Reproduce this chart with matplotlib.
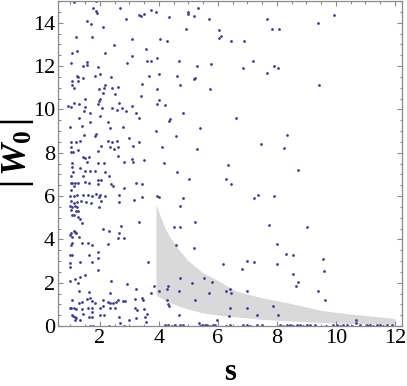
import matplotlib
matplotlib.use('Agg')
import matplotlib.pyplot as plt
from matplotlib.ticker import MultipleLocator

plt.rcParams['font.family'] = ['Liberation Serif', 'DejaVu Serif']
plt.rcParams['mathtext.fontset'] = 'custom'
plt.rcParams['mathtext.rm'] = 'Liberation Serif:bold'
plt.rcParams['mathtext.it'] = 'Liberation Serif:italic:bold'
plt.rcParams['mathtext.bf'] = 'Liberation Serif:bold'

# ---- scatter data (s, |W0|) ----
s_top_left = [1.12,1.86,1.77,1.86,1.91,2.67,1.55,1.71,2.89,3.31,
              2.09,1.18,1.74,3.08,2.49,1.22,1.07,2.18,3.08,1.02,
              1.57,1.57,1.43,2.92,1.95,1.99,1.85,1.23,1.27,1.44,
              2.37,1.06,1.25,1.07,1.11,2.18,2.15,1.97,2.41,2.63,
              2.11,2.52,1.51,2.02,1.98,1.12,1.30,1.95,2.66,0.92,
              1.02,1.48,2.07,2.41,2.76,2.59,3.08,1.46,1.65,2.90,
              1.28,1.99,3.24,1.66,2.28,1.00,1.40,2.34,2.80]
w_top_left = [14.95,14.98,14.70,14.56,14.43,14.70,14.09,13.92,14.18,14.36,
              13.80,13.36,13.33,13.24,12.98,12.69,12.58,12.58,12.47,12.15,
              12.19,12.04,12.02,12.15,11.96,11.62,11.56,11.55,11.49,11.45,
              11.49,11.33,11.33,11.12,10.99,11.12,10.99,10.96,10.99,11.02,
              10.75,10.73,10.49,10.47,10.39,10.28,10.24,10.24,10.30,10.15,
              10.13,10.13,10.05,10.08,10.07,9.98,10.16,9.90,9.85,9.91,
              9.62,9.68,9.84,9.42,9.41,9.18,9.21,9.13,9.19]

s_mid_left = [1.45,1.84,1.87,1.01,1.19,1.31,2.29,2.40,2.59,2.99,
              3.31,3.11,2.05,2.33,2.49,2.61,1.03,1.01,1.08,1.25,
              1.95,1.42,1.64,1.50,1.57,2.60,2.82,3.08,3.13,1.04,
              1.05,1.93,2.14,1.33,1.49,1.65,1.82,1.08,2.16,2.32,
              1.01,1.43,1.92,2.05,1.02,1.07,1.14,1.25,1.51,1.62,
              1.95,2.38,2.46,2.81,3.23,1.13,1.01,1.13,1.00,1.21,
              1.43,1.58,1.72,1.87,1.97,2.02,2.18,2.64,1.02,1.12,
              1.21,1.35,1.53,1.69,2.03,3.14,2.64,0.98,1.04,1.16,
              1.24,1.98,1.02,1.19,1.27,1.06,1.13,1.25,1.31,3.31,
              1.39,2.11,2.31,2.72,2.64,1.15,1.20,1.02,0.98,1.04,
              1.29,1.12,2.62,2.81,1.06,1.02,1.41,1.58,1.72,2.29]
w_mid_left = [8.82,8.79,8.84,8.51,8.50,8.53,8.53,8.48,8.53,8.68,
              8.50,8.31,8.33,8.27,8.16,8.25,8.28,8.04,8.02,8.14,
              8.10,7.82,7.82,7.76,7.59,7.85,7.57,7.71,7.56,7.54,
              7.36,7.51,7.54,7.30,7.14,7.16,7.16,7.10,7.11,6.90,
              6.93,6.90,6.74,6.74,6.59,6.59,6.59,6.59,6.65,6.59,
              6.56,6.57,6.44,6.39,6.59,6.47,6.27,6.02,6.02,6.05,
              6.04,6.04,5.99,6.10,5.97,6.05,6.00,6.04,5.79,5.67,
              5.74,5.76,5.73,5.70,5.77,5.80,5.73,5.54,5.48,5.53,
              5.48,5.47,5.34,5.33,5.33,5.13,5.11,5.02,4.96,4.80,
              4.74,4.50,4.37,4.62,4.31,4.36,4.28,4.28,4.20,4.11,
              4.11,4.39,4.08,4.06,3.82,3.73,3.82,3.85,3.76,3.80]

s_low_left = [0.97,1.05,1.62,1.92,1.95,1.33,0.98,0.98,1.74,1.95,
              1.50,1.32,1.15,1.00,1.27,2.38,2.92,3.21,3.18,1.28,
              1.62,2.34,1.07,1.28,1.40,1.56,1.67,1.74,1.82,2.11,
              2.26,2.35,2.44,2.56,2.61,2.77,2.86,0.97,1.03,1.12,
              1.19,1.40,1.58,1.73,1.99,2.10,2.34,2.51,3.18,3.25,
              1.05,1.08,1.14,1.19,1.44,1.33,1.63,1.72,1.73,2.02,
              2.15,2.66,2.68,2.98,3.23,1.66,1.75,2.32,2.81,1.17]
w_low_left = [3.29,3.28,3.26,3.43,3.13,2.94,2.91,2.74,2.94,2.57,
              2.36,2.25,2.17,2.06,1.97,2.06,1.92,1.69,1.25,1.63,
              1.57,1.54,1.20,1.08,1.12,1.26,1.29,1.17,1.05,1.20,
              1.12,1.08,1.05,1.09,1.19,1.14,1.15,0.83,0.83,0.83,
              0.77,0.80,0.85,0.85,0.82,0.92,0.82,0.82,0.83,0.75,
              0.49,0.45,0.43,0.38,0.55,0.28,0.40,0.63,0.40,0.51,
              0.49,0.42,0.15,0.26,0.38,0.02,0.02,0.01,0.01,0.30]

s_top_right = [3.73,3.90,3.51,3.38,4.35,4.99,4.97,5.20,5.33,5.71,
               4.92,6.05,6.09,6.03,6.45,6.87,4.03,4.29,3.57,3.59,
               3.73,3.93,4.69,5.29,5.75,6.86,7.19,7.67,3.67,4.00,
               4.63,5.23,5.19,3.42,4.70,3.92,5.72,3.41,4.01,3.93,
               4.19,4.83,3.31,4.36,4.34,6.63,5.40,7.68,7.84,8.08,
               9.39,9.94,7.90,8.05,9.44]
w_top_right = [14.57,14.49,14.38,14.32,14.27,14.50,14.38,14.29,14.70,14.16,
               13.70,13.64,13.40,13.29,13.15,13.15,13.24,13.15,12.78,12.21,
               12.24,12.36,12.21,12.02,12.10,11.93,12.21,11.66,11.56,11.61,
               11.56,11.45,11.38,11.19,11.12,10.95,10.93,10.62,10.45,10.24,
               10.19,9.85,9.61,9.56,9.48,9.61,9.16,14.16,13.69,13.73,
               14.00,14.36,12.01,11.90,11.12]

s_mid_right = [3.90,4.58,4.12,5.29,7.45,3.49,4.18,4.62,5.01,6.35,
               6.27,6.45,3.43,3.43,3.94,4.01,4.83,7.37,7.24,4.71,
               5.21,4.52,4.72,7.74,4.58,5.20,8.35,8.25,8.72,7.90,
               9.03,8.00]
w_mid_right = [9.01,8.75,8.24,8.16,8.41,7.65,7.54,7.11,6.79,7.41,
               6.79,6.57,6.57,5.94,5.99,5.94,5.90,6.05,5.90,5.54,
               4.79,4.56,4.59,4.67,3.74,3.60,8.82,8.22,7.21,5.99,
               4.56,3.77]

s_low_right = [3.63,6.18,6.98,7.23,6.83,3.84,4.00,4.31,4.29,4.72,
               5.12,4.67,5.54,5.81,5.71,6.27,6.41,6.43,6.98,3.73,
               4.28,4.32,4.34,5.24,3.47,3.43,3.50,3.60,3.54,3.57,
               6.42,6.98,4.68,6.36,7.32,5.98,5.36,8.32,8.53,8.00,
               9.56,9.58,8.55,8.72,8.66,9.40,9.62,7.88,8.05,10.69,
               10.69]
w_low_right = [2.94,2.86,3.02,2.94,2.63,1.86,1.63,1.86,1.72,2.22,
               1.97,1.63,2.22,2.02,1.51,1.63,1.69,1.54,1.63,1.52,
               1.20,1.02,0.94,1.20,1.20,1.31,0.80,0.55,0.40,0.17,
               0.82,0.82,0.51,0.45,0.49,0.26,0.15,3.33,3.28,2.85,
               3.08,2.54,2.40,2.02,1.85,1.62,1.20,0.94,0.49,0.28,
               0.15]

s_floor = [4.20,4.32,4.43,4.54,4.71,4.82,5.39,5.45,5.56,5.64,
           5.73,5.82,5.90,6.29,6.41,6.86,6.97,7.08,7.31,7.48,
           8.10,8.22,8.33,8.44,8.55,8.67,8.78,8.89,9.01,9.12,
           9.29,9.68,9.91,10.02,10.14,10.25,10.36,10.53,10.81,11.04,
           11.15,11.27,11.38,11.49,11.61,11.72,11.89]
w_floor = [0.03,0.05,0.02,0.04,0.03,0.06,0.02,0.04,0.03,0.05,
           0.02,0.03,0.04,0.02,0.05,0.03,0.04,0.02,0.03,0.05,
           0.04,0.02,0.03,0.05,0.02,0.04,0.03,0.02,0.05,0.03,
           0.04,0.02,0.03,0.05,0.02,0.04,0.03,0.02,0.05,0.03,
           0.04,0.02,0.03,0.05,0.02,0.04,0.03]

# ---- shaded band ----
band_s     = [3.9, 4.05, 4.2, 4.35, 4.5, 4.75, 5.0, 5.5, 6.0, 6.6, 7.5, 8.5, 9.5, 10.5, 12.0]
band_upper = [5.63, 5.05, 4.55, 4.15, 3.85, 3.4, 3.0, 2.45, 2.1, 1.62, 1.3, 1.03, 0.72, 0.55, 0.35]
band_lower = [1.43, 1.3, 1.2, 1.1, 1.02, 0.88, 0.78, 0.6, 0.5, 0.42, 0.31, 0.23, 0.16, 0.12, 0.08]

xticks = [2, 4, 6, 8, 10, 12]
yticks = [0, 2, 4, 6, 8, 10, 12, 14]

W, H = 407, 386
fig = plt.figure(figsize=(W/100, H/100), dpi=100)
ax = fig.add_axes([58/W, 1-326/H, (402-58)/W, (326-1)/H])

ax.fill_between(band_s, band_lower, band_upper, color='#d9d9d9', lw=0, zorder=1)

groups = [(s_top_left, w_top_left), (s_mid_left, w_mid_left), (s_low_left, w_low_left),
          (s_top_right, w_top_right), (s_mid_right, w_mid_right),
          (s_low_right, w_low_right), (s_floor, w_floor)]
for sv, wv in groups:
    ax.scatter(sv, wv, s=4, color='#3d3d99', linewidths=0, zorder=2, clip_on=True)

ax.set_xlim(0.58, 12.24)
ax.set_ylim(0, 15)
ax.set_xticks(xticks)
ax.set_yticks(yticks)
ax.xaxis.set_minor_locator(MultipleLocator(0.5))
ax.yaxis.set_minor_locator(MultipleLocator(0.5))
for sp in ax.spines.values():
    sp.set_color('#8a8a8a')
    sp.set_linewidth(0.9)
ax.tick_params(which='both', direction='in', top=True, right=True,
               color='#8a8a8a', labelcolor='black', labelsize=16, width=0.8)
ax.tick_params(which='major', length=3.5, pad=2)
ax.tick_params(which='minor', length=1.8)

fig.text(230/W, 1-373/H, 's', ha='center', va='center', fontsize=22, fontweight='bold')
fig.text(18/W, 1-153/H, r'$|\,W_0\,|$', ha='center', va='center', rotation=90, fontsize=26)

fig.savefig('out.png', dpi=100)
